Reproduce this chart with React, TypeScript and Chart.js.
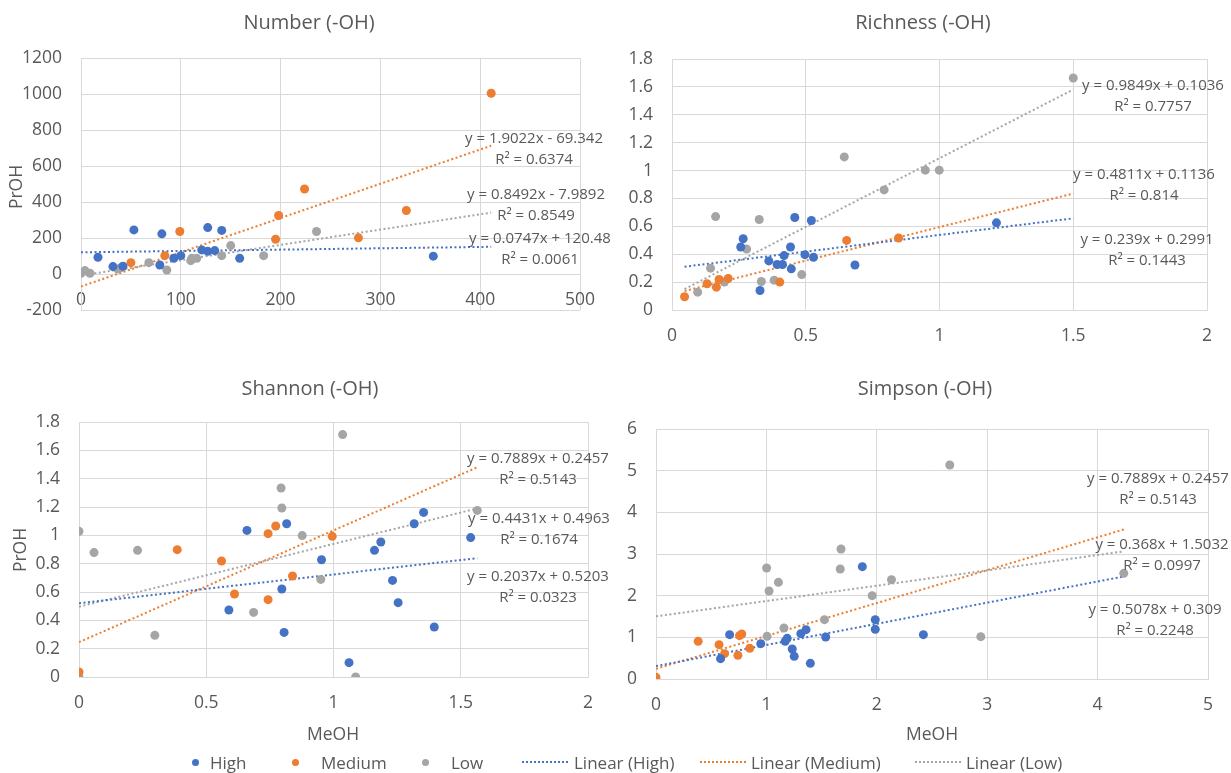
import React, { useEffect, useRef } from 'react';
import { Chart, registerables } from 'chart.js';
Chart.register(...registerables);

const FONT = '"Open Sans", sans-serif';
const TEXT = '#595959';
const GRID = '#d9d9d9';
const COLORS = ['#4472C4', '#ED7D31', '#A5A5A5'];
const seriesNames = ['High', 'Medium', 'Low'];

// ---------- Number (-OH) ----------
const numberHigh = [[17, 93], [53, 245], [81, 223], [32, 41], [42, 43], [79, 50], [93, 87], [100, 102], [127, 258], [141, 242], [121, 134], [127, 126], [134, 130], [159, 87], [353, 99]];
const numberMedium = [[50, 63], [84, 102], [99, 236], [198, 325], [195, 193], [224, 472], [278, 201], [326, 353], [411, 1004]];
const numberLow = [[0, 4], [4, 19], [9, 4], [37, 28], [40, 35], [68, 63], [86, 22], [110, 74], [111, 87], [116, 87], [141, 102], [150, 158], [183, 102], [236, 236]];
const numberFits = [[0.0747, 120.48], [1.9022, -69.342], [0.8492, -7.9892]];
const numberFitRange = [0, 411];
const numberEq = [['y = 0.0747x + 120.48', 'R² = 0.0061'], ['y = 1.9022x - 69.342', 'R² = 0.6374'], ['y = 0.8492x - 7.9892', 'R² = 0.8549']];

// ---------- Richness (-OH) ----------
const richHigh = [[0.266, 0.511], [0.257, 0.452], [0.459, 0.663], [0.521, 0.642], [0.362, 0.352], [0.393, 0.326], [0.413, 0.326], [0.419, 0.39], [0.443, 0.452], [0.446, 0.295], [0.497, 0.397], [0.529, 0.378], [0.684, 0.323], [0.329, 0.14], [1.213, 0.625]];
const richMedium = [[0.047, 0.095], [0.131, 0.188], [0.166, 0.164], [0.176, 0.219], [0.21, 0.226], [0.403, 0.2], [0.653, 0.499], [0.847, 0.516]];
const richLow = [[1.5, 1.664], [0.644, 1.098], [0.947, 1.003], [0.999, 1.003], [0.793, 0.861], [0.163, 0.67], [0.326, 0.649], [0.279, 0.437], [0.144, 0.3], [0.096, 0.128], [0.196, 0.2], [0.334, 0.204], [0.382, 0.214], [0.485, 0.254]];
const richFits = [[0.239, 0.2991], [0.4811, 0.1136], [0.9849, 0.1036]];
const richFitRange = [0.047, 1.5];
const richEq = [['y = 0.239x + 0.2991', 'R² = 0.1443'], ['y = 0.4811x + 0.1136', 'R² = 0.814'], ['y = 0.9849x + 0.1036', 'R² = 0.7757']];

// ---------- Shannon (-OH) ----------
const shanHigh = [[0.589, 0.473], [0.66, 1.035], [0.797, 0.621], [0.806, 0.315], [0.816, 1.082], [0.953, 0.828], [1.061, 0.101], [1.161, 0.894], [1.186, 0.953], [1.232, 0.682], [1.254, 0.525], [1.317, 1.082], [1.354, 1.162], [1.396, 0.353], [1.539, 0.984]];
const shanMedium = [[0, 0.035], [0.386, 0.899], [0.56, 0.819], [0.611, 0.586], [0.743, 1.012], [0.773, 1.066], [0.743, 0.546], [0.839, 0.713], [0.995, 0.993]];
const shanLow = [[0, 1.028], [0.059, 0.878], [0.23, 0.894], [0.298, 0.294], [0.686, 0.456], [0.794, 1.334], [0.797, 1.193], [0.877, 0.998], [0.95, 0.689], [1.036, 1.711], [1.087, 0], [1.565, 1.176], [0, 0]];
const shanFits = [[0.2037, 0.5203], [0.7889, 0.2457], [0.4431, 0.4963]];
const shanFitRange = [0, 1.565];
const shanEq = [['y = 0.2037x + 0.5203', 'R² = 0.0323'], ['y = 0.7889x + 0.2457', 'R² = 0.5143'], ['y = 0.4431x + 0.4963', 'R² = 0.1674']];

// ---------- Simpson (-OH) ----------
const simpHigh = [[1.869, 2.696], [1.986, 1.424], [1.986, 1.192], [2.422, 1.064], [0.667, 1.064], [0.585, 0.488], [0.949, 0.848], [1.17, 0.904], [1.188, 0.976], [1.234, 0.72], [1.252, 0.544], [1.312, 1.088], [1.359, 1.184], [1.398, 0.376], [1.537, 1.008]];
const simpMedium = [[0, 0.04], [0.382, 0.904], [0.571, 0.824], [0.621, 0.608], [0.742, 0.568], [0.756, 1.04], [0.777, 1.08], [0.849, 0.736]];
const simpLow = [[2.661, 5.136], [1.676, 3.12], [1.669, 2.64], [1.002, 2.664], [1.109, 2.32], [1.024, 2.112], [2.133, 2.384], [1.958, 2.0], [4.237, 2.536], [1.526, 1.424], [1.159, 1.224], [1.006, 1.024], [2.942, 1.016]];
const simpFits = [[0.5078, 0.309], [0.7889, 0.2457], [0.368, 1.5032]];
const simpFitRange = [0, 4.237];
const simpEq = [['y = 0.5078x + 0.309', 'R² = 0.2248'], ['y = 0.7889x + 0.2457', 'R² = 0.5143'], ['y = 0.368x + 1.5032', 'R² = 0.0997']];

const panelTitles = ['Number (-OH)', 'Richness (-OH)', 'Shannon (-OH)', 'Simpson (-OH)'];
const xTitle = 'MeOH';
const yTitle = 'PrOH';
const legendLabels = ['High', 'Medium', 'Low', 'Linear (High)', 'Linear (Medium)', 'Linear (Low)'];

type Panel = {
  series: number[][][];
  fits: number[][];
  range: number[];
  xMin: number; xMax: number; xStep: number;
  yMin: number; yMax: number; yStep: number;
  box: { left: number; top: number; w: number; h: number };
  pad: { top: number; right: number; bottom: number };
  yWidth: number;
};

const panels: Panel[] = [
  { series: [numberHigh, numberMedium, numberLow], fits: numberFits, range: numberFitRange,
    xMin: 0, xMax: 500, xStep: 100, yMin: -200, yMax: 1200, yStep: 200,
    box: { left: 0, top: 0, w: 615, h: 365 }, pad: { top: 58, right: 35, bottom: 55 }, yWidth: 81 },
  { series: [richHigh, richMedium, richLow], fits: richFits, range: richFitRange,
    xMin: 0, xMax: 2, xStep: 0.5, yMin: 0, yMax: 1.8, yStep: 0.2,
    box: { left: 615, top: 0, w: 616, h: 365 }, pad: { top: 59, right: 24, bottom: 55 }, yWidth: 57 },
  { series: [shanHigh, shanMedium, shanLow], fits: shanFits, range: shanFitRange,
    xMin: 0, xMax: 2, xStep: 0.5, yMin: 0, yMax: 1.8, yStep: 0.2,
    box: { left: 0, top: 365, w: 615, h: 408 }, pad: { top: 57, right: 27, bottom: 96 }, yWidth: 79 },
  { series: [simpHigh, simpMedium, simpLow], fits: simpFits, range: simpFitRange,
    xMin: 0, xMax: 5, xStep: 1, yMin: 0, yMax: 6, yStep: 1,
    box: { left: 615, top: 365, w: 616, h: 408 }, pad: { top: 64, right: 23, bottom: 94 }, yWidth: 41 },
];

const fmt = (v: any) => String(Number(Number(v).toFixed(3)));

function makeConfig(p: Panel): any {
  const datasets: any[] = [];
  p.series.forEach((s, i) => {
    datasets.push({
      label: seriesNames[i],
      data: s.map(([x, y]) => ({ x, y })),
      backgroundColor: COLORS[i],
      borderColor: COLORS[i],
      borderWidth: 0,
      pointRadius: 4.5,
      pointHoverRadius: 4.5,
      showLine: false,
    });
  });
  p.fits.forEach(([m, b], i) => {
    datasets.push({
      label: 'Linear (' + seriesNames[i] + ')',
      data: p.range.map((x) => ({ x, y: m * x + b })),
      borderColor: COLORS[i],
      backgroundColor: COLORS[i],
      borderWidth: 2,
      borderDash: [2, 2.5],
      pointRadius: 0,
      showLine: true,
      fill: false,
    });
  });
  const tickFont = { family: FONT, size: 17.5 };
  return {
    type: 'scatter',
    data: { datasets },
    options: {
      responsive: false,
      animation: false,
      events: [],
      layout: { padding: { top: p.pad.top, right: p.pad.right, bottom: p.pad.bottom, left: 0 } },
      plugins: { legend: { display: false }, title: { display: false }, tooltip: { enabled: false } },
      scales: {
        x: {
          type: 'linear',
          position: { y: 0 },
          min: p.xMin, max: p.xMax,
          ticks: { stepSize: p.xStep, padding: 16, color: TEXT, font: tickFont, maxRotation: 0, autoSkip: false, callback: fmt },
          grid: { color: GRID, drawTicks: false, lineWidth: 1 },
          border: { color: GRID },
        },
        y: {
          type: 'linear',
          position: 'left',
          min: p.yMin, max: p.yMax,
          ticks: { stepSize: p.yStep, padding: 19, color: TEXT, font: tickFont, autoSkip: false, callback: fmt },
          grid: { color: GRID, drawTicks: false, lineWidth: 1 },
          border: { color: GRID },
          afterFit: (s: any) => { s.width = p.yWidth; },
        },
      },
    },
  };
}

function PanelChart({ p }: { p: Panel }) {
  const ref = useRef<HTMLCanvasElement | null>(null);
  useEffect(() => {
    if (!ref.current) return;
    const chart = new Chart(ref.current, makeConfig(p));
    return () => chart.destroy();
  }, [p]);
  return (
    <canvas
      ref={ref}
      width={p.box.w}
      height={p.box.h}
      style={{ position: 'absolute', left: p.box.left, top: p.box.top, width: p.box.w, height: p.box.h }}
    />
  );
}

const label = (text: string, x: number, y: number, size: number, extra: any = {}) => (
  <div
    key={text + x + '_' + y}
    style={{
      position: 'absolute', left: x, top: y, transform: 'translate(-50%, -50%)',
      fontFamily: FONT, fontSize: size, color: TEXT, whiteSpace: 'nowrap', lineHeight: 1, ...extra,
    }}
  >
    {text}
  </div>
);

// equation label centres (page px) per panel, series order High, Medium, Low
const eqPos = [
  [[540, 237], [534, 137], [536, 193]],
  [[1147, 238], [1144, 173], [1153, 84]],
  [[538, 575], [538, 457], [539, 517]],
  [[1155, 608], [1158, 477], [1162, 543]],
];
const eqSets = [numberEq, richEq, shanEq, simpEq];
const titlePos = [[309, 22], [923, 22], [310, 388], [925, 388]];

export default function App() {
  useEffect(() => {
    document.body.style.margin = '0';
  }, []);
  const legendItems = [
    { kind: 'dot', c: COLORS[0], mx: 195, tx: 210 },
    { kind: 'dot', c: COLORS[1], mx: 295, tx: 321 },
    { kind: 'dot', c: COLORS[2], mx: 425, tx: 451 },
    { kind: 'line', c: COLORS[0], mx: 522, tx: 574 },
    { kind: 'line', c: COLORS[1], mx: 700, tx: 751 },
    { kind: 'line', c: COLORS[2], mx: 915, tx: 966 },
  ];
  return (
    <div style={{ position: 'absolute', left: 0, top: 0, width: 1231, height: 773, background: '#fff', overflow: 'hidden' }}>
      {panels.map((p, i) => <PanelChart key={i} p={p} />)}
      {panelTitles.map((t, i) => label(t, titlePos[i][0], titlePos[i][1], 20))}
      {label(yTitle, 16, 187, 17.5, { transform: 'translate(-50%, -50%) rotate(-90deg)' })}
      {label(yTitle, 20, 550, 17.5, { transform: 'translate(-50%, -50%) rotate(-90deg)' })}
      {label(xTitle, 333, 734, 17.5)}
      {label(xTitle, 932, 734, 17.5)}
      {eqSets.map((set, pi) =>
        set.map((lines, si) => (
          <React.Fragment key={'eq' + pi + si}>
            {label(lines[0], eqPos[pi][si][0], eqPos[pi][si][1], 15)}
            {label(lines[1], eqPos[pi][si][0], eqPos[pi][si][1] + 21, 15)}
          </React.Fragment>
        ))
      )}
      {legendItems.map((it, i) => (
        <React.Fragment key={'lg' + i}>
          {it.kind === 'dot' ? (
            <div style={{ position: 'absolute', left: it.mx - 3.5, top: 762 - 3.5, width: 7, height: 7, borderRadius: '50%', background: it.c }} />
          ) : (
            <div style={{ position: 'absolute', left: it.mx, top: 761, width: 46, height: 0, borderTop: '2px dotted ' + it.c }} />
          )}
          <div style={{ position: 'absolute', left: it.tx, top: 762, transform: 'translateY(-50%)', fontFamily: FONT, fontSize: 17, color: TEXT, whiteSpace: 'nowrap', lineHeight: 1 }}>
            {legendLabels[i]}
          </div>
        </React.Fragment>
      ))}
    </div>
  );
}
